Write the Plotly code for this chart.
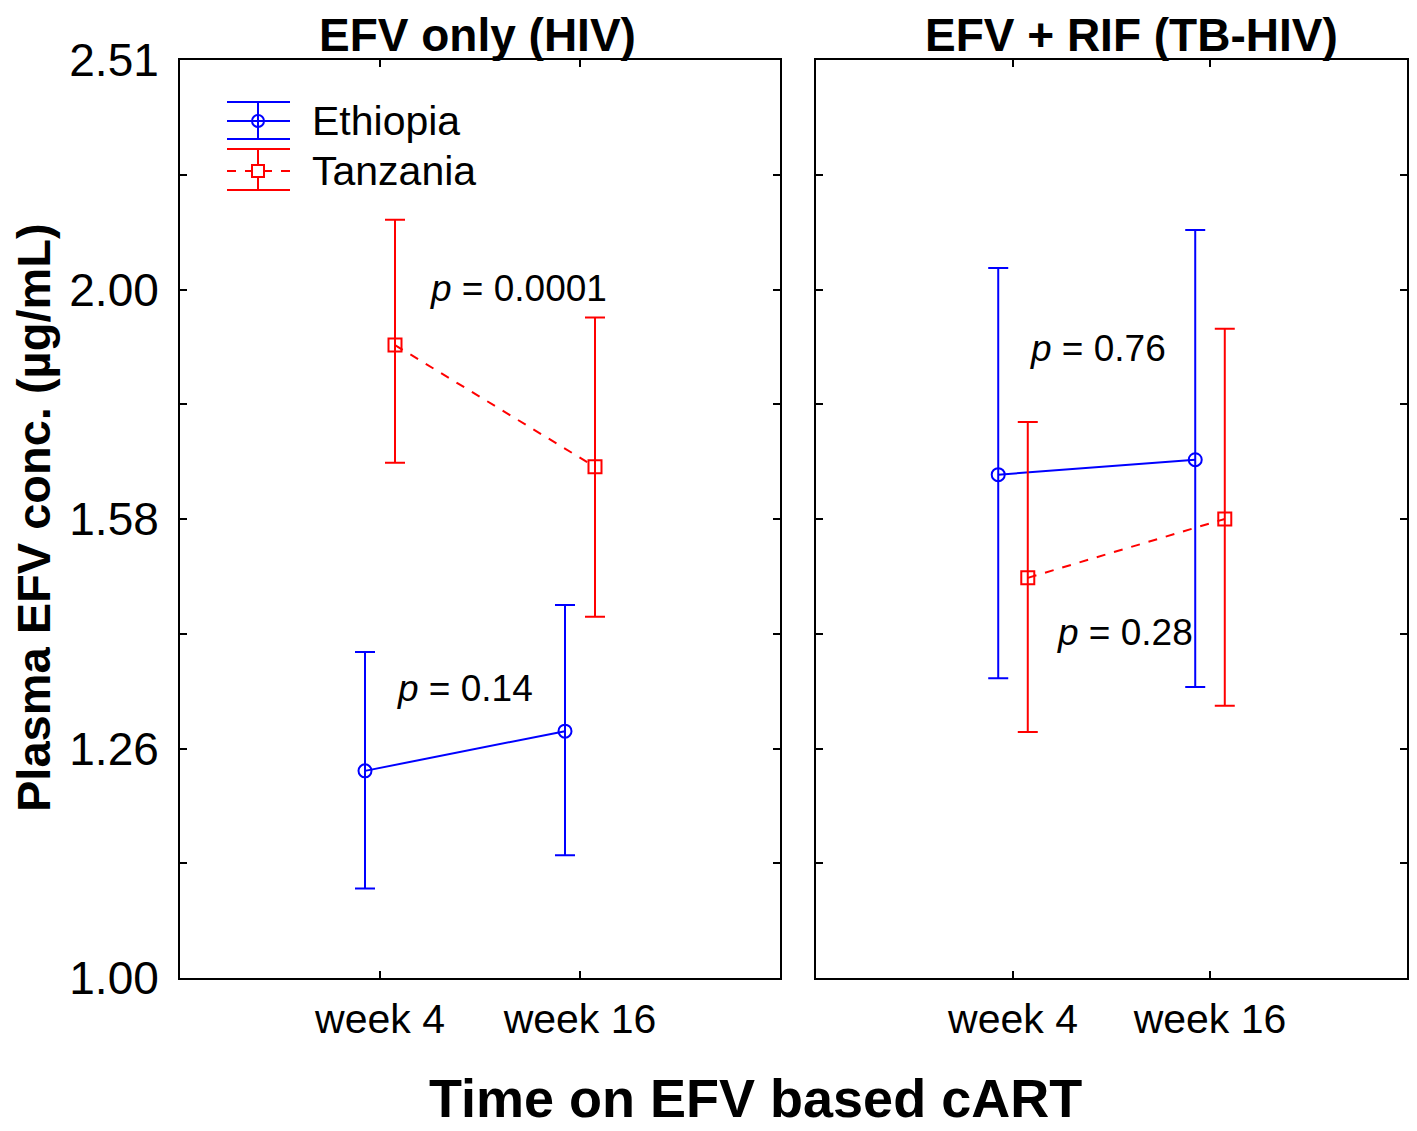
import plotly.graph_objects as go

# data (geometric mean with 95% CI, ug/mL)
weeks = ["week 4", "week 16"]
week_pos = [1, 2]

hiv_eth_mean = [1.231, 1.281]
hiv_eth_lo = [1.094, 1.131]
hiv_eth_hi = [1.387, 1.454]
hiv_tz_mean = [1.887, 1.670]
hiv_tz_lo = [1.677, 1.437]
hiv_tz_hi = [2.140, 1.940]

tb_eth_mean = [1.657, 1.682]
tb_eth_lo = [1.351, 1.339]
tb_eth_hi = [2.039, 2.118]
tb_tz_mean = [1.494, 1.585]
tb_tz_lo = [1.280, 1.314]
tb_tz_hi = [1.747, 1.918]

y_tick_vals = [10 ** (k * 0.05) for k in range(9)]
y_tick_labels = ["1.00", "", "1.26", "", "1.58", "", "2.00", "", "2.51"]

p_labels = ["0.0001", "0.14", "0.76", "0.28"]

# the page body keeps its 8px margin, so the figure sits at (8, 8)
PAD = 8
W, H = 1417 - PAD, 1131 - PAD
FONT = "Liberation Sans, Arial, sans-serif"
BLUE = "#0000ff"
RED = "#ff0000"


def px(x):
    return (x - PAD) / W


def py(y):
    return 1 - (y - PAD) / H


def series(xs, mean, lo, hi, color, symbol, dash, xa, ya, offset):
    return go.Scatter(
        x=[v + offset for v in xs], y=mean,
        mode="lines+markers",
        line=dict(color=color, width=2, dash=dash),
        marker=dict(symbol=symbol, size=13, color=color, line=dict(color=color, width=2)),
        error_y=dict(type="data", symmetric=False,
                     array=[h - m for h, m in zip(hi, mean)],
                     arrayminus=[m - l for m, l in zip(mean, lo)],
                     color=color, thickness=2, width=10),
        xaxis=xa, yaxis=ya, showlegend=False,
    )


fig = go.Figure()
off = 0.075
fig.add_trace(series(week_pos, hiv_eth_mean, hiv_eth_lo, hiv_eth_hi, BLUE, "circle-open", "solid", "x", "y", -off))
fig.add_trace(series(week_pos, hiv_tz_mean, hiv_tz_lo, hiv_tz_hi, RED, "square-open", "dash", "x", "y", off))
fig.add_trace(series(week_pos, tb_eth_mean, tb_eth_lo, tb_eth_hi, BLUE, "circle-open", "solid", "x2", "y2", -off))
fig.add_trace(series(week_pos, tb_tz_mean, tb_tz_lo, tb_tz_hi, RED, "square-open", "dash", "x2", "y2", off))

ax_common = dict(showline=True, linecolor="black", linewidth=2, mirror="ticks",
                 ticks="inside", ticklen=7, tickwidth=1.5, tickcolor="black",
                 showgrid=False, zeroline=False, automargin=False)

fig.update_layout(
    template="none",
    width=W, height=H,
    margin=dict(l=0, r=0, t=0, b=0, pad=0),
    paper_bgcolor="white", plot_bgcolor="white",
    font=dict(family=FONT, color="black"),
    xaxis=dict(domain=[px(180), px(780)], range=[0, 3], tickvals=week_pos, ticktext=weeks,
               tickfont=dict(size=41), ticklabelstandoff=4, anchor="y", **ax_common),
    yaxis=dict(domain=[py(978), py(60)], type="log", range=[0, 0.4],
               tickvals=y_tick_vals, ticktext=y_tick_labels,
               tickfont=dict(size=46), ticklabelstandoff=10, anchor="x", **ax_common),
    xaxis2=dict(domain=[px(816), px(1407)], range=[0, 3], tickvals=week_pos, ticktext=weeks,
                tickfont=dict(size=41), ticklabelstandoff=4, anchor="y2", **ax_common),
    yaxis2=dict(domain=[py(978), py(60)], type="log", range=[0, 0.4],
                tickvals=y_tick_vals, showticklabels=False, anchor="x2", **ax_common),
    showlegend=False,
)

ann = []
# panel titles
ann.append(dict(text="<b>EFV only (HIV)</b>", x=px(478), y=py(35), font=dict(size=46)))
ann.append(dict(text="<b>EFV + RIF (TB-HIV)</b>", x=px(1131), y=py(35), font=dict(size=46)))
# axis titles
ann.append(dict(text="<b>Time on EFV based cART</b>", x=px(755), y=py(1098), font=dict(size=54)))
ann.append(dict(text="<b>Plasma EFV conc. (µg/mL)</b>", x=px(33), y=py(518), textangle=-90,
                font=dict(size=47)))
# p values
p_pos = [(428, 288), (395, 688), (1028, 348), (1055, 632)]
for lab, (xx, yy) in zip(p_labels, p_pos):
    ann.append(dict(text="<i>p</i> = " + lab, x=px(xx), y=py(yy), xanchor="left",
                    font=dict(size=37)))
# legend labels
ann.append(dict(text="Ethiopia", x=px(310), y=py(121), xanchor="left", font=dict(size=41)))
ann.append(dict(text="Tanzania", x=px(310), y=py(171), xanchor="left", font=dict(size=41)))
for a in ann:
    a.setdefault("xanchor", "center")
    a.update(xref="paper", yref="paper", yanchor="middle", showarrow=False)
    a["font"].update(family=FONT, color="black")
fig.update_layout(annotations=ann)

# legend symbols (error-bar style)
shapes = []
for color, top, mid, bot, dash in [(BLUE, 102, 121, 139, "solid"), (RED, 149, 171, 190, "dash")]:
    for yy in (top, bot):
        shapes.append(dict(type="line", x0=px(227), x1=px(290), y0=py(yy), y1=py(yy),
                           line=dict(color=color, width=2)))
    shapes.append(dict(type="line", x0=px(227), x1=px(290), y0=py(mid), y1=py(mid),
                       line=dict(color=color, width=2, dash=dash)))
    shapes.append(dict(type="line", x0=px(258), x1=px(258), y0=py(top), y1=py(bot),
                       line=dict(color=color, width=2)))
shapes.append(dict(type="circle", x0=px(252), x1=px(264), y0=py(127), y1=py(115),
                   line=dict(color=BLUE, width=2), fillcolor="rgba(0,0,0,0)"))
shapes.append(dict(type="rect", x0=px(252), x1=px(264), y0=py(177), y1=py(165),
                   line=dict(color=RED, width=2), fillcolor="white"))
for s in shapes:
    s.update(xref="paper", yref="paper")
fig.update_layout(shapes=shapes)

fig.write_html("out.html")
